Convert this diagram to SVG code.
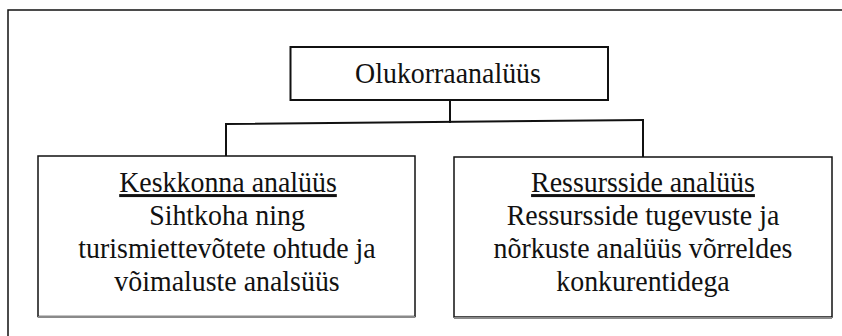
<svg xmlns="http://www.w3.org/2000/svg" width="842" height="336" viewBox="0 0 842 336">
  <style>
    .box { fill: #ffffff; stroke: #111111; stroke-width: 1.5; }
    .shadow { stroke: #8a8a8a; stroke-width: 2; fill: none; }
    .conn { stroke: #111111; stroke-width: 2; fill: none; stroke-linecap: square; }
    .frame { stroke: #111111; stroke-width: 1.5; fill: none; }
    .t { font-family: "Liberation Serif", "Times New Roman", serif; font-size: 30px; fill: #111111; text-anchor: middle; }
    .u { text-decoration: underline; }
  </style>
  <rect x="0" y="0" width="842" height="336" fill="#ffffff"/>
  <g id="frame">
    <path class="frame" d="M8,336 L8,10 L842,10"/>
  </g>
  <g id="connectors">
    <line class="conn" x1="450" y1="100" x2="450" y2="122"/>
    <line class="conn" x1="226" y1="124" x2="643" y2="120"/>
    <line class="conn" x1="226" y1="124" x2="226" y2="156"/>
    <line class="conn" x1="643" y1="120" x2="643" y2="157"/>
  </g>
  <g id="node-olukorraanaluus">
    <rect class="box" x="290.5" y="47" width="317.5" height="53" style="stroke-width:2"/>
    <text class="t" transform="translate(448,83) scale(0.93,1)">Olukorraanalüüs</text>
  </g>
  <g id="node-keskkonna">
    <rect class="box" x="38" y="156" width="377" height="160.5"/>
    <line class="shadow" x1="38" y1="317" x2="415" y2="317"/>
    <text class="t u" transform="translate(228,192) scale(0.93,1)">Keskkonna analüüs</text>
    <text class="t" transform="translate(227,225) scale(0.93,1)">Sihtkoha ning</text>
    <text class="t" transform="translate(227,258) scale(0.93,1)">turismiettevõtete ohtude ja</text>
    <text class="t" transform="translate(227,291) scale(0.93,1)">võimaluste analsüüs</text>
  </g>
  <g id="node-ressursside">
    <rect class="box" x="454" y="157" width="378" height="160"/>
    <line class="shadow" x1="454" y1="318" x2="832" y2="318"/>
    <text class="t u" transform="translate(643,192) scale(0.93,1)">Ressursside analüüs</text>
    <text class="t" transform="translate(643,225) scale(0.93,1)">Ressursside tugevuste ja</text>
    <text class="t" transform="translate(643,258) scale(0.93,1)">nõrkuste analüüs võrreldes</text>
    <text class="t" transform="translate(643,291) scale(0.93,1)">konkurentidega</text>
  </g>
</svg>
